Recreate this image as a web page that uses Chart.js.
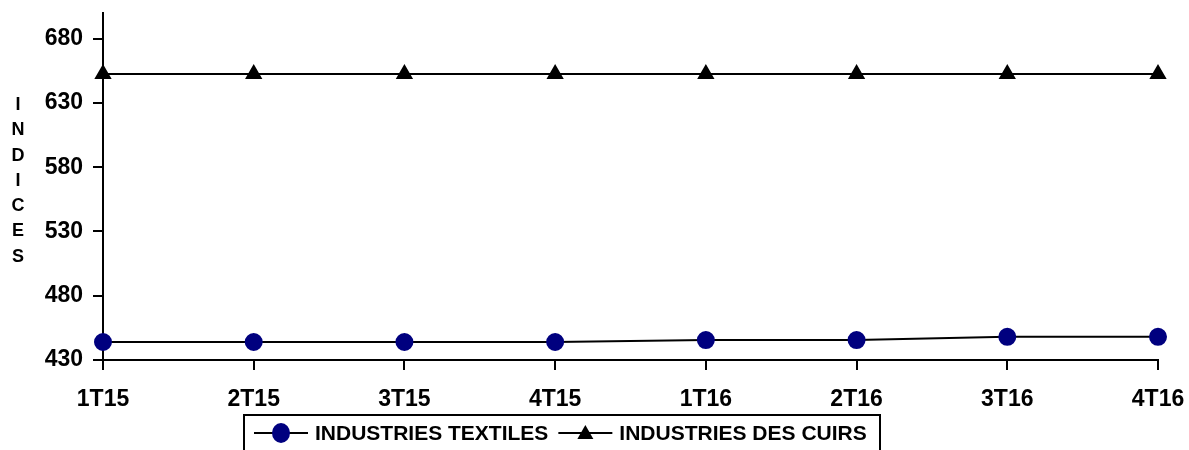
<!DOCTYPE html>
<html>
<head>
<meta charset="utf-8">
<script src="https://cdn.jsdelivr.net/npm/chart.js@4"></script>
<style>
  body { margin: 0; background: #fff; }
  #wrap { width: 1189px; height: 450px; }
</style>
</head>
<body>
<div id="wrap"><canvas id="graphe"></canvas></div>
<script>
const trimestres = ['1T15', '2T15', '3T15', '4T15', '1T16', '2T16', '3T16', '4T16'];
const textiles = [444, 444, 444, 444, 445.5, 445.5, 448, 448];
const cuirs = [652.5, 652.5, 652.5, 652.5, 652.5, 652.5, 652.5, 652.5];
const graduations = [430, 480, 530, 580, 630, 680];
const titreY = 'INDICES';

const police = "'Liberation Sans', Arial, sans-serif";

// legende encadree sous le graphe, avec le trait et le marqueur
const legendeCadre = {
    id: 'legendeCadre',
    afterDraw(chart) {
        const ctx = chart.ctx;
        ctx.save();
        ctx.strokeStyle = '#000';
        ctx.lineWidth = 2;
        ctx.strokeRect(244, 415, 636, 50);

        ctx.font = 'bold 21px ' + police;
        ctx.fillStyle = '#000';
        ctx.textBaseline = 'middle';
        let x = 254;
        const y = 433;
        chart.data.datasets.forEach(ds => {
            ctx.beginPath();
            ctx.lineWidth = 2;
            ctx.moveTo(x, y);
            ctx.lineTo(x + 54, y);
            ctx.stroke();
            ctx.fillStyle = ds.pointBackgroundColor;
            ctx.beginPath();
            if (ds.pointStyle === 'circle') {
                ctx.ellipse(x + 27, y, 9, 10, 0, 0, Math.PI * 2);
            } else {
                ctx.moveTo(x + 27, y - 8);
                ctx.lineTo(x + 35, y + 6);
                ctx.lineTo(x + 19, y + 6);
                ctx.closePath();
            }
            ctx.fill();
            ctx.fillStyle = '#000';
            ctx.fillText(ds.label, x + 61, y + 1);
            x += 61 + ctx.measureText(ds.label).width + 10;
        });

        // titre vertical de l'axe, lettre par lettre
        ctx.font = 'bold 18px ' + police;
        ctx.textAlign = 'center';
        titreY.split('').forEach((c, i) => {
            ctx.fillText(c, 18, 105 + i * 25.3);
        });
        ctx.restore();
    }
};

new Chart(document.getElementById('graphe'), {
    type: 'line',
    data: {
        labels: trimestres,
        datasets: [{
            label: 'INDUSTRIES TEXTILES',
            data: textiles,
            borderColor: '#000',
            borderWidth: 2,
            pointStyle: 'circle',
            pointRadius: 8,
            pointBackgroundColor: '#00007f',
            pointBorderColor: '#00007f',
            tension: 0
        }, {
            label: 'INDUSTRIES DES CUIRS',
            data: cuirs,
            borderColor: '#000',
            borderWidth: 2,
            pointStyle: 'triangle',
            pointRadius: 8,
            pointBackgroundColor: '#000',
            pointBorderColor: '#000',
            tension: 0
        }]
    },
    options: {
        responsive: true,
        maintainAspectRatio: false,
        animation: false,
        layout: { padding: { top: 13, right: 31, left: 0, bottom: 0 } },
        plugins: {
            legend: { display: false },
            tooltip: { enabled: false }
        },
        scales: {
            x: {
                offset: false,
                grid: { display: true, drawOnChartArea: false, drawTicks: true, tickLength: 10, color: '#000', lineWidth: 2 },
                border: { color: '#000', width: 2 },
                ticks: {
                    color: '#000',
                    font: { family: police, size: 23, weight: 'bold' },
                    padding: 16,
                    maxRotation: 0
                },
                afterFit(scale) {
                    scale.height = 90;
                    scale.paddingLeft = 0;
                    scale.paddingRight = 0;
                }
            },
            y: {
                min: 430,
                max: 700,
                grid: { display: true, drawOnChartArea: false, drawTicks: true, tickLength: 10, color: '#000', lineWidth: 2 },
                border: { color: '#000', width: 2 },
                ticks: {
                    color: '#000',
                    font: { family: police, size: 23, weight: 'bold' },
                    padding: 10
                },
                afterBuildTicks(scale) {
                    scale.ticks = graduations.map(v => ({ value: v }));
                },
                afterFit(scale) {
                    scale.width = 103;
                    scale.paddingTop = 0;
                    scale.paddingBottom = 0;
                }
            }
        }
    },
    plugins: [legendeCadre]
});
</script>
</body>
</html>
